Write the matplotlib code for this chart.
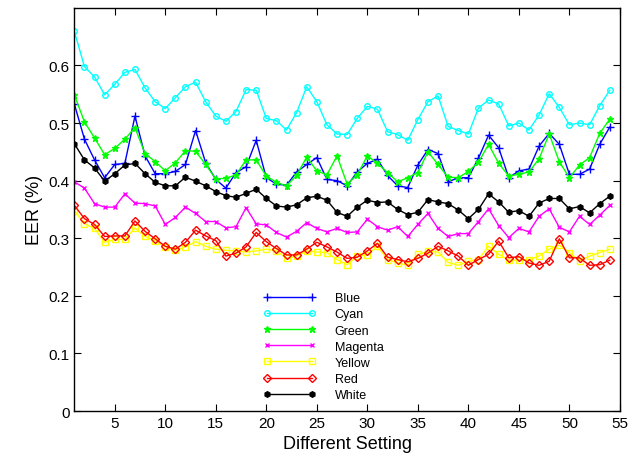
import matplotlib
matplotlib.use('Agg')
import matplotlib.pyplot as plt
import numpy as np

plt.rcParams['font.family'] = ['Liberation Sans', 'DejaVu Sans']

settings = np.arange(1, 55)

blue = [0.533, 0.472, 0.436, 0.405, 0.428, 0.430, 0.512, 0.443, 0.412, 0.412,
        0.416, 0.428, 0.487, 0.431, 0.402, 0.387, 0.414, 0.424, 0.470, 0.405,
        0.394, 0.392, 0.415, 0.428, 0.440, 0.402, 0.400, 0.391, 0.415, 0.430,
        0.437, 0.409, 0.391, 0.388, 0.427, 0.454, 0.447, 0.398, 0.405, 0.405,
        0.439, 0.479, 0.457, 0.405, 0.417, 0.420, 0.460, 0.482, 0.463, 0.411,
        0.411, 0.420, 0.463, 0.493]
cyan = [0.659, 0.598, 0.580, 0.549, 0.567, 0.588, 0.593, 0.561, 0.537, 0.525,
        0.544, 0.563, 0.571, 0.537, 0.512, 0.503, 0.520, 0.558, 0.557, 0.508,
        0.504, 0.488, 0.518, 0.563, 0.537, 0.497, 0.481, 0.480, 0.508, 0.529,
        0.524, 0.485, 0.480, 0.470, 0.506, 0.537, 0.547, 0.494, 0.487, 0.481,
        0.526, 0.540, 0.533, 0.495, 0.500, 0.488, 0.514, 0.551, 0.527, 0.497,
        0.500, 0.497, 0.530, 0.557]
green = [0.549, 0.502, 0.474, 0.445, 0.456, 0.472, 0.492, 0.447, 0.433, 0.417,
         0.431, 0.452, 0.451, 0.428, 0.403, 0.404, 0.410, 0.436, 0.436, 0.408,
         0.397, 0.391, 0.409, 0.441, 0.417, 0.410, 0.443, 0.394, 0.410, 0.443,
         0.430, 0.414, 0.398, 0.405, 0.414, 0.450, 0.428, 0.406, 0.405, 0.416,
         0.432, 0.463, 0.430, 0.408, 0.411, 0.415, 0.438, 0.481, 0.433, 0.405,
         0.427, 0.440, 0.482, 0.507]
magenta = [0.398, 0.387, 0.360, 0.354, 0.354, 0.377, 0.361, 0.360, 0.356, 0.324,
           0.336, 0.354, 0.343, 0.329, 0.329, 0.318, 0.320, 0.353, 0.325, 0.323,
           0.310, 0.302, 0.312, 0.327, 0.317, 0.311, 0.317, 0.310, 0.311, 0.333,
           0.320, 0.314, 0.320, 0.303, 0.324, 0.343, 0.317, 0.303, 0.308, 0.308,
           0.329, 0.351, 0.322, 0.301, 0.317, 0.311, 0.338, 0.351, 0.319, 0.311,
           0.338, 0.324, 0.340, 0.357]
yellow = [0.348, 0.325, 0.317, 0.293, 0.298, 0.298, 0.318, 0.303, 0.296, 0.285,
          0.279, 0.285, 0.294, 0.286, 0.281, 0.279, 0.278, 0.276, 0.278, 0.281,
          0.278, 0.265, 0.269, 0.278, 0.276, 0.275, 0.263, 0.254, 0.269, 0.271,
          0.286, 0.263, 0.257, 0.253, 0.272, 0.277, 0.276, 0.258, 0.253, 0.260,
          0.263, 0.286, 0.272, 0.262, 0.262, 0.263, 0.269, 0.281, 0.288, 0.275,
          0.261, 0.269, 0.275, 0.281]
red = [0.357, 0.334, 0.324, 0.303, 0.304, 0.304, 0.330, 0.312, 0.299, 0.286,
       0.281, 0.293, 0.314, 0.304, 0.296, 0.269, 0.274, 0.285, 0.310, 0.294,
       0.282, 0.271, 0.271, 0.281, 0.293, 0.285, 0.276, 0.265, 0.267, 0.278,
       0.291, 0.267, 0.263, 0.259, 0.265, 0.274, 0.286, 0.278, 0.269, 0.253,
       0.263, 0.272, 0.295, 0.266, 0.268, 0.257, 0.253, 0.260, 0.299, 0.266,
       0.266, 0.253, 0.254, 0.262]
white = [0.464, 0.436, 0.422, 0.399, 0.412, 0.427, 0.430, 0.412, 0.397, 0.391,
         0.391, 0.406, 0.399, 0.391, 0.381, 0.374, 0.371, 0.378, 0.385, 0.369,
         0.356, 0.354, 0.358, 0.370, 0.373, 0.366, 0.345, 0.338, 0.354, 0.366,
         0.362, 0.363, 0.350, 0.341, 0.345, 0.367, 0.363, 0.360, 0.349, 0.334,
         0.350, 0.377, 0.363, 0.345, 0.348, 0.338, 0.361, 0.369, 0.369, 0.351,
         0.355, 0.344, 0.360, 0.373]

series = [
    ('Blue', blue, '#0000ff', '+', 5.5, 'full'),
    ('Cyan', cyan, '#00ffff', 'o', 4, 'none'),
    ('Green', green, '#00ff00', '*', 5, 'full'),
    ('Magenta', magenta, '#ff00ff', 'x', 3, 'full'),
    ('Yellow', yellow, '#ffff00', 's', 4.5, 'none'),
    ('Red', red, '#ff0000', 'D', 4, 'none'),
    ('White', white, '#000000', 'h', 4, 'full'),
]

fig = plt.figure(figsize=(6.3, 4.64), dpi=100)
ax = fig.add_axes([0.118, 0.112, 0.866, 0.869])

for name, vals, col, mk, ms, fill in series:
    ax.plot(settings, vals, color=col, marker=mk, markersize=ms, fillstyle=fill,
            linewidth=1.0, markeredgewidth=1.0, label=name)

ax.set_xlim(1, 55)
ax.set_ylim(0, 0.7)
ax.set_xticks(np.arange(5, 56, 5))
ax.set_yticks([0, 0.1, 0.2, 0.3, 0.4, 0.5, 0.6])
ax.set_yticklabels(['0', '0.1', '0.2', '0.3', '0.4', '0.5', '0.6'])
ax.tick_params(direction='in', top=True, right=True, labelsize=11, length=5)
for s in ax.spines.values():
    s.set_linewidth(1.0)

ax.set_xlabel('Different Setting', fontsize=13)
ax.set_ylabel('EER (%)', fontsize=13)

ax.legend(loc='upper left', bbox_to_anchor=(0.335, 0.31), frameon=False,
          fontsize=9, numpoints=2, handlelength=4.2, handletextpad=1.5,
          labelspacing=0.33, borderpad=0)

fig.savefig('out.png', dpi=100)
